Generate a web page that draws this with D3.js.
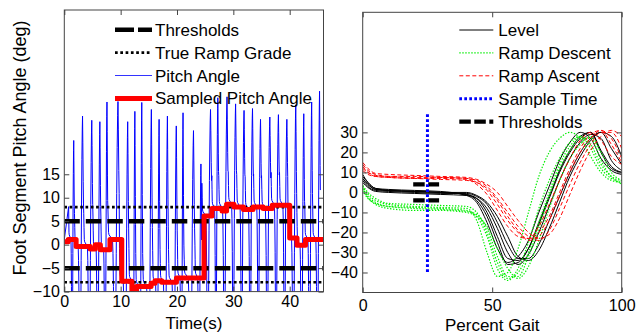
<!DOCTYPE html>
<html>
<head>
<meta charset="utf-8">
<script src="https://cdn.jsdelivr.net/npm/d3@7"></script>
<style>
  body { margin: 0; background: #fff; }
  svg { display: block; }
  text { font-family: "Liberation Sans", Arial, sans-serif; fill: #000; }
</style>
</head>
<body>
<svg id="chart" width="638" height="333"></svg>
<script>
// ---- left panel: pitch angle over time ----
const timeTicks = [0, 10, 20, 30, 40];
const pitchTicks = [-10, -5, 0, 5, 10, 15];
const thresholds = [-5, 5];
const rampGrades = [-8, 8];

// swing peaks of the raw pitch signal (s, deg)
const peakTimes = [1.9, 3.2, 4.8, 6.35, 7.8, 9.3, 11.1, 12.6, 13.9, 15.3, 16.9, 18.3, 19.8, 21.3, 22.7,
  24.4, 25.8, 27.4, 28.8, 30.4, 31.9, 33.4, 34.9, 36.4, 38.0, 39.5, 41.0, 42.5, 43.9, 45.3];
const peakValues = [22.2, 27.4, 26.5, 26.2, 30.4, 30.5, 26.2, 28.4, 30.3, 28.8, 26.7, 27.4, 25.3, 28.1, 24.3,
  17.2, 28.8, 31.3, 31.5, 30.0, 28.6, 29.0, 26.7, 27.2, 27.7, 26.7, 29.8, 27.9, 30.4, 32.7];

// sampled pitch angle (step values held from each time)
const sampleTimes = [0, 0.7, 2.1, 4.6, 5.5, 6.4, 8.1, 10.2, 12.0, 12.8, 15.4, 16.1, 17.3, 19.9,
  24.8, 26.2, 28.0, 28.8, 30.1, 31.8, 33.5, 35.3, 36.9, 40.0, 41.3, 42.8];
const sampleValues = [0.6, 1.1, -0.4, -0.9, 0, -1.1, 1.1, -7.8, -10.8, -8.9, -8.2, -7.7, -8.0, -7.1,
  6.1, 7.7, 7.2, 8.6, 8.0, 7.5, 8.0, 7.7, 8.4, 1.4, -0.1, 1.1];
const timeEnd = 46;

// one stride of level walking (percent gait, deg), used to shape each stride
const strideShapePct = [0, 3, 6, 10, 40, 44, 48, 52, 56, 60, 64, 68, 72, 76, 80, 84, 87, 90, 94, 97];
const strideShapeVal = [7, 4, 1.5, 1, 0, -3, -10, -22, -33, -35, -28, -16, -3, 10, 20, 27, 30, 24, 15, 10];

// ---- right panel: pitch angle over the gait cycle ----
const gaitTicksX = [0, 50, 100];
const gaitTicksY = [-40, -30, -20, -10, 0, 10, 20, 30];
const gaitPct = [0, 2, 5, 10, 20, 30, 40, 44, 48, 52, 56, 60, 64, 68, 72, 76, 80, 84, 88, 92, 96, 100];
const levelCurves = [
  [8, 5, 2, 1.5, 1, 0.5, -1.5, -5, -15, -28, -35, -32, -24, -10, 3, 16, 25, 30, 27, 17, 11, 9],
  [6, 3, 1, 0.5, 0, -0.5, -0.5, -2, -6, -15, -26, -33, -33, -26, -14, -2, 10, 20, 27, 30, 22, 14],
  [9, 5, 2, 1, 0.5, 0, -1, -4, -12, -25, -36, -35, -28, -15, -2, 11, 21, 28, 30, 20, 12, 10],
  [5, 2.5, 0.5, 0, -0.5, -1, -1.5, -3, -8, -18, -30, -36, -31, -20, -7, 6, 17, 25, 29, 27, 16, 11],
  [7, 4, 1.5, 1, 0.5, 0, 0, -1.5, -5, -12, -22, -32, -34, -29, -18, -5, 8, 18, 26, 30, 28, 18],
  [7, 4, 1.5, 1, 0.5, 0, -1, -3, -10, -22, -33, -34, -28, -16, -3, 10, 20, 27, 30, 21, 13, 10]
];
const descentCurves = [
  [3, -1, -4, -6, -7, -7.5, -8, -14, -30, -42, -40, -28, -10, 8, 20, 27, 30, 27, 18, 10, 6, 5],
  [2, -2, -5, -7, -7.5, -8, -9, -12, -22, -38, -44, -38, -25, -8, 6, 17, 25, 28, 22, 12, 7, 5],
  [1, -3, -5.5, -7, -8, -8.5, -9.5, -11, -18, -32, -42, -42, -32, -18, -2, 12, 21, 27, 27, 16, 8, 6],
  [3.5, 0, -3, -5.5, -6, -6.5, -7, -10, -20, -35, -43, -40, -30, -15, 0, 14, 23, 28, 24, 14, 8, 4],
  [2, -2.5, -6, -8, -9, -9, -10, -12, -17, -28, -38, -43, -37, -24, -8, 6, 17, 24, 28, 20, 10, 6]
];
const ascentCurves = [
  [14, 11, 9, 8, 7.5, 7.5, 7, 5, 1, -6, -14, -20, -23, -20, -12, 0, 12, 22, 29, 31, 24, 15],
  [12, 10, 8.5, 8, 8, 7.5, 7, 6, 3, -3, -10, -17, -22, -24, -19, -8, 4, 15, 24, 30, 30, 22],
  [13, 10, 8, 7.5, 7, 7, 6.5, 4, -1, -9, -17, -22, -23, -17, -6, 6, 17, 26, 30, 26, 18, 14],
  [15, 12, 9.5, 9, 8.5, 8, 7.5, 6.5, 4, 0, -7, -14, -20, -23, -21, -13, -1, 11, 21, 28, 31, 28],
  [11, 9, 8, 7.5, 7, 6.5, 6, 5, 2, -4, -12, -19, -24, -22, -14, -2, 10, 20, 27, 31, 27, 17]
];
const sampleGait = 25;
const sampleRange = [-40, 39];
const gaitThresholds = [-4, 4];
const gaitThreshRange = [19.5, 29.5];

const svg = d3.select('#chart');
const axisColor = '#444';

function makePanel(id, box, xDom, yDom, xTicks, yTicks, xPad, yPad) {
  const x = d3.scaleLinear().domain(xDom).range([box.left, box.right]);
  const y = d3.scaleLinear().domain(yDom).range([box.bottom, box.top]);
  const g = svg.append('g');

  svg.append('clipPath').attr('id', id)
    .append('rect')
    .attr('x', box.left).attr('y', box.top)
    .attr('width', box.right - box.left).attr('height', box.bottom - box.top);

  const plot = g.append('g').attr('clip-path', 'url(#' + id + ')');

  const axes = g.append('g').attr('class', 'axes');
  axes.append('g')
    .attr('transform', 'translate(0,' + box.bottom + ')')
    .call(d3.axisBottom(x).tickValues(xTicks).tickSizeInner(-5).tickSizeOuter(0).tickPadding(xPad));
  axes.append('g')
    .attr('transform', 'translate(0,' + box.top + ')')
    .call(d3.axisTop(x).tickValues(xTicks).tickSizeInner(-5).tickSizeOuter(0).tickFormat(''));
  axes.append('g')
    .attr('transform', 'translate(' + box.left + ',0)')
    .call(d3.axisLeft(y).tickValues(yTicks).tickSizeInner(-5).tickSizeOuter(0).tickPadding(yPad));
  axes.append('g')
    .attr('transform', 'translate(' + box.right + ',0)')
    .call(d3.axisRight(y).tickValues(yTicks).tickSizeInner(-5).tickSizeOuter(0).tickFormat(''));
  axes.selectAll('.domain').remove();
  axes.selectAll('.tick line').attr('stroke', axisColor);
  axes.selectAll('.tick text')
    .style('font-family', '"Liberation Sans", Arial, sans-serif')
    .style('font-size', '16px')
    .attr('fill', '#000');

  g.append('rect')
    .attr('x', box.left).attr('y', box.top)
    .attr('width', box.right - box.left).attr('height', box.bottom - box.top)
    .attr('fill', 'none').attr('stroke', axisColor).attr('stroke-width', 1);

  return { g, plot, x, y };
}

// ---------- left ----------
const L = makePanel('clipL', { left: 64.3, right: 323.5, top: 10, bottom: 291.6 },
  [0, timeEnd], [-10, 50], timeTicks, pitchTicks, 3.7, 4.3);

function sampledAt(t) {
  let v = sampleValues[0];
  sampleTimes.forEach((s, i) => { if (t >= s) v = sampleValues[i]; });
  return v;
}

const shapePeak = d3.max(strideShapeVal);
const peakPhase = strideShapePct[strideShapeVal.indexOf(shapePeak)] / 100;
const strideLen = peakTimes.map((p, i) => i < peakTimes.length - 1 ? peakTimes[i + 1] - p : p - peakTimes[i - 1]);
const strideStart = peakTimes.map((p, i) => p - peakPhase * strideLen[i]);

const pitchSeries = [];
peakTimes.forEach((p, i) => {
  const t0 = strideStart[i];
  const t1 = i < peakTimes.length - 1 ? strideStart[i + 1] : t0 + strideLen[i];
  const stance = sampledAt(t0 + 0.25 * (t1 - t0));
  if (i === 0) pitchSeries.push([0, stance]);
  strideShapePct.forEach((pct, k) => {
    const v = strideShapeVal[k];
    const val = (v > 0 && pct > 50) ? stance + v * (peakValues[i] - stance) / shapePeak : stance + v;
    pitchSeries.push([t0 + pct / 100 * (t1 - t0), val]);
  });
});

L.plot.append('path')
  .datum(pitchSeries)
  .attr('fill', 'none')
  .attr('stroke', '#0000ff')
  .attr('stroke-width', 1)
  .attr('d', d3.line().x(d => L.x(d[0])).y(d => L.y(d[1])));

thresholds.forEach(v => {
  L.plot.append('line')
    .attr('x1', L.x(0)).attr('x2', L.x(timeEnd))
    .attr('y1', L.y(v)).attr('y2', L.y(v))
    .attr('stroke', '#000').attr('stroke-width', 4.5)
    .attr('stroke-dasharray', '15.5,6');
});
rampGrades.forEach(v => {
  L.plot.append('line')
    .attr('x1', L.x(0)).attr('x2', L.x(timeEnd))
    .attr('y1', L.y(v)).attr('y2', L.y(v))
    .attr('stroke', '#000').attr('stroke-width', 2.6)
    .attr('stroke-dasharray', '2.7,2.6');
});

const sampledSeries = sampleTimes.map((t, i) => [t, sampleValues[i]]);
sampledSeries.push([timeEnd, sampleValues[sampleValues.length - 1]]);
L.plot.append('path')
  .datum(sampledSeries)
  .attr('fill', 'none')
  .attr('stroke', '#ff0000')
  .attr('stroke-width', 5)
  .attr('stroke-linejoin', 'round')
  .attr('d', d3.line().curve(d3.curveStepAfter).x(d => L.x(d[0])).y(d => L.y(d[1])));

L.g.append('text')
  .attr('x', 193.9).attr('y', 328.5)
  .attr('text-anchor', 'middle')
  .style('font-size', '17px')
  .text('Time(s)');
L.g.append('text')
  .attr('transform', 'translate(25.5,148) rotate(-90)')
  .attr('text-anchor', 'middle')
  .style('font-size', '18px')
  .text('Foot Segment Pitch Angle (deg)');

const leftLegend = [
  { label: 'Thresholds', stroke: '#000', width: 4.5, dash: '19,4' },
  { label: 'True Ramp Grade', stroke: '#000', width: 2.6, dash: '2.7,2.6' },
  { label: 'Pitch Angle', stroke: '#3333ff', width: 1, dash: null },
  { label: 'Sampled Pitch Angle', stroke: '#ff0000', width: 5, dash: null }
];
leftLegend.forEach((d, i) => {
  const base = 35.7 + i * 22.9;
  L.g.append('line')
    .attr('x1', 115).attr('x2', 152)
    .attr('y1', base - 6).attr('y2', base - 6)
    .attr('stroke', d.stroke).attr('stroke-width', d.width)
    .attr('stroke-dasharray', d.dash);
  L.g.append('text')
    .attr('x', 155).attr('y', base)
    .style('font-size', '17px')
    .text(d.label);
});

// ---------- right ----------
const R = makePanel('clipR', { left: 362.7, right: 621.7, top: 12.3, bottom: 292.5 },
  [0, 100], [-50, 90], gaitTicksX, gaitTicksY, 7, 4.7);

const gaitLine = d3.line().curve(d3.curveMonotoneX).x((d, i) => R.x(gaitPct[i])).y(d => R.y(d));

levelCurves.forEach(c => {
  R.plot.append('path').datum(c)
    .attr('fill', 'none').attr('stroke', '#000').attr('stroke-width', 1)
    .attr('d', gaitLine);
});
descentCurves.forEach(c => {
  R.plot.append('path').datum(c)
    .attr('fill', 'none').attr('stroke', '#00ee00').attr('stroke-width', 1.2)
    .attr('stroke-dasharray', '1.4,1.6')
    .attr('d', gaitLine);
});
ascentCurves.forEach(c => {
  R.plot.append('path').datum(c)
    .attr('fill', 'none').attr('stroke', '#ff0000').attr('stroke-width', 1)
    .attr('stroke-dasharray', '4,2.5')
    .attr('d', gaitLine);
});

gaitThresholds.forEach(v => {
  R.plot.append('line')
    .attr('x1', R.x(gaitThreshRange[0])).attr('x2', R.x(gaitThreshRange[1]))
    .attr('y1', R.y(v)).attr('y2', R.y(v))
    .attr('stroke', '#000').attr('stroke-width', 4.2)
    .attr('stroke-dasharray', '11.5,3.5');
});
R.plot.append('line')
  .attr('x1', R.x(sampleGait)).attr('x2', R.x(sampleGait))
  .attr('y1', R.y(sampleRange[1])).attr('y2', R.y(sampleRange[0]))
  .attr('stroke', '#0000ff').attr('stroke-width', 3)
  .attr('stroke-dasharray', '2.7,2.3');

R.g.append('text')
  .attr('x', 492.2).attr('y', 330.5)
  .attr('text-anchor', 'middle')
  .style('font-size', '17px')
  .text('Percent Gait');

const rightLegend = [
  { label: 'Level', stroke: '#000', width: 1, dash: null },
  { label: 'Ramp Descent', stroke: '#00ee00', width: 1.2, dash: '1.4,1.6' },
  { label: 'Ramp Ascent', stroke: '#ff0000', width: 1, dash: '4,2.5' },
  { label: 'Sample Time', stroke: '#0000ff', width: 3, dash: '2.7,2.3' },
  { label: 'Thresholds', stroke: '#000', width: 4.2, dash: '11.5,3.5' }
];
rightLegend.forEach((d, i) => {
  const base = 36 + i * 22.9;
  R.g.append('line')
    .attr('x1', 459.3).attr('x2', 493.3)
    .attr('y1', base - 6).attr('y2', base - 6)
    .attr('stroke', d.stroke).attr('stroke-width', d.width)
    .attr('stroke-dasharray', d.dash);
  R.g.append('text')
    .attr('x', 498.3).attr('y', base)
    .style('font-size', '17px')
    .text(d.label);
});
</script>
</body>
</html>
